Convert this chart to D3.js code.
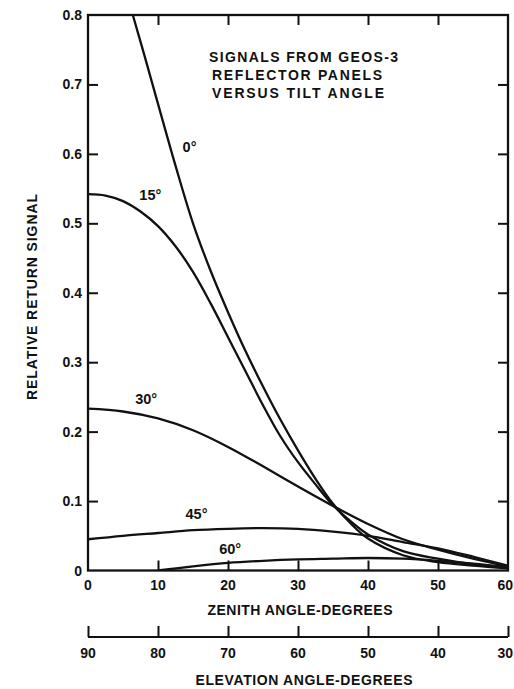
<!DOCTYPE html>
<html><head><meta charset="utf-8">
<script src="https://cdn.jsdelivr.net/npm/d3@7"></script>
<style>
html,body{margin:0;padding:0;background:#fff;}
svg text{font-family:"Liberation Sans",Arial,Helvetica,sans-serif;font-weight:bold;fill:#111;}
</style></head>
<body><svg id="c" width="514" height="689"></svg>
<script>
// zenith angle (deg) vs relative return signal, per tilt angle
const zen0  = [6.4, 8, 10, 12.5, 15, 17.5, 20, 22.5, 25, 27.5, 30, 32.5, 35, 37.5, 40, 45, 50, 55, 60];
const sig0  = [0.80, 0.744, 0.672, 0.583, 0.500, 0.432, 0.372, 0.316, 0.265, 0.217, 0.173, 0.132, 0.096, 0.068, 0.046, 0.022, 0.012, 0.007, 0.003];
const zen15 = [0, 2.5, 5, 7.5, 10, 12.5, 15, 17.5, 20, 22.5, 25, 27.5, 30, 32.5, 35, 37.5, 40, 45, 50, 55, 60];
const sig15 = [0.542, 0.540, 0.532, 0.517, 0.496, 0.467, 0.430, 0.385, 0.336, 0.287, 0.238, 0.193, 0.156, 0.124, 0.094, 0.071, 0.052, 0.028, 0.017, 0.009, 0.004];
const zen30 = [0, 5, 10, 15, 20, 25, 30, 35, 40, 45, 50, 55, 60];
const sig30 = [0.233, 0.229, 0.219, 0.202, 0.178, 0.150, 0.121, 0.093, 0.067, 0.045, 0.030, 0.017, 0.006];
const zen45 = [0, 5, 10, 15, 20, 25, 30, 35, 40, 45, 50, 55, 60];
const sig45 = [0.045, 0.050, 0.054, 0.058, 0.060, 0.061, 0.060, 0.056, 0.050, 0.041, 0.032, 0.020, 0.007];
const zen60 = [10, 15, 20, 25, 30, 35, 40, 45, 50, 55, 60];
const sig60 = [0.000, 0.006, 0.011, 0.014, 0.016, 0.017, 0.018, 0.017, 0.014, 0.010, 0.005];
const seriesLabels = ["0°", "15°", "30°", "45°", "60°"];
const labelPos = [[14.5, 0.610], [8.9, 0.541], [8.3, 0.247], [15.5, 0.081], [20.3, 0.032]];
const yTicks = [0, 0.1, 0.2, 0.3, 0.4, 0.5, 0.6, 0.7, 0.8];
const zenTicks = [0, 10, 20, 30, 40, 50, 60];
const elevTicks = [90, 80, 70, 60, 50, 40, 30];
const titleLines = ["SIGNALS FROM GEOS-3", "REFLECTOR PANELS", "VERSUS TILT ANGLE"];

const svg = d3.select("#c");
const L = 88, R = 508, T = 15, B = 570.5;
const x = d3.scaleLinear().domain([0, 60]).range([L, R]);
const y = d3.scaleLinear().domain([0, 0.8]).range([B, T]);
const xe = d3.scaleLinear().domain([90, 30]).range([L, R]);

const defs = svg.append("defs");
defs.append("clipPath").attr("id", "clip").append("rect")
  .attr("x", L).attr("y", T).attr("width", R - L).attr("height", B - T);

// curves
const series = [[zen0, sig0], [zen15, sig15], [zen30, sig30], [zen45, sig45], [zen60, sig60]];
const line = d3.line().x(d => x(d[0])).y(d => y(d[1])).curve(d3.curveCatmullRom.alpha(0.5));
const g = svg.append("g").attr("clip-path", "url(#clip)");
series.forEach(([zs, vs]) => {
  g.append("path").attr("d", line(zs.map((z, i) => [z, vs[i]])))
    .attr("fill", "none").attr("stroke", "#111").attr("stroke-width", 2.3)
    .attr("stroke-linejoin", "round");
});

// frame axes
const tk = 10;
const axL = d3.axisRight(y).tickValues(yTicks.slice(1, -1)).tickSize(tk).tickFormat("");
const axR = d3.axisLeft(y).tickValues(yTicks.slice(1, -1)).tickSize(tk).tickFormat("");
const axT = d3.axisBottom(x).tickValues(zenTicks.slice(1, -1)).tickSize(tk).tickFormat("");
const axB = d3.axisTop(x).tickValues(zenTicks.slice(1, -1)).tickSize(tk).tickFormat("");
function style(sel) {
  sel.selectAll(".domain").remove();
  sel.selectAll("line").attr("stroke", "#111").attr("stroke-width", 2);
}
svg.append("g").attr("transform", `translate(${L},0)`).call(axL).call(style);
svg.append("g").attr("transform", `translate(${R},0)`).call(axR).call(style);
svg.append("g").attr("transform", `translate(0,${T})`).call(axT).call(style);
svg.append("g").attr("transform", `translate(0,${B})`).call(axB).call(style);
svg.append("rect").attr("x", L).attr("y", T).attr("width", R - L).attr("height", B - T)
  .attr("fill", "none").attr("stroke", "#111").attr("stroke-width", 2.3);

// y tick labels
svg.append("g").selectAll("text").data(yTicks).join("text")
  .attr("x", 82).attr("y", d => y(d)).attr("dy", "0.36em").attr("text-anchor", "end")
  .attr("font-size", 14).text(d => d === 0 ? "0" : d3.format(".1f")(d));

// zenith tick labels (last one kept inside the page edge)
const last = (i, n) => i === n - 1;
svg.append("g").selectAll("text").data(zenTicks).join("text")
  .attr("x", (d, i) => last(i, zenTicks.length) ? 513 : x(d)).attr("y", 585).attr("dy", "0.36em")
  .attr("text-anchor", (d, i) => last(i, zenTicks.length) ? "end" : "middle")
  .attr("font-size", 14).text(d => d);
svg.append("text").attr("x", 300).attr("y", 610).attr("dy", "0.36em").attr("text-anchor", "middle")
  .attr("font-size", 14).attr("textLength", 185).attr("lengthAdjust", "spacing").text("ZENITH ANGLE-DEGREES");

// elevation axis
const axE = d3.axisTop(xe).tickValues(elevTicks).tickSize(11).tickFormat("");
const ge = svg.append("g").attr("transform", "translate(0,637)").call(axE);
ge.select(".domain").attr("stroke", "#111").attr("stroke-width", 2).attr("d", `M${L},0H${R}`);
ge.selectAll("line").attr("stroke", "#111").attr("stroke-width", 2);
svg.append("g").selectAll("text").data(elevTicks).join("text")
  .attr("x", (d, i) => last(i, elevTicks.length) ? 513 : xe(d)).attr("y", 653).attr("dy", "0.36em")
  .attr("text-anchor", (d, i) => last(i, elevTicks.length) ? "end" : "middle")
  .attr("font-size", 14).text(d => d);
svg.append("text").attr("x", 304).attr("y", 680).attr("dy", "0.36em").attr("text-anchor", "middle")
  .attr("font-size", 14).attr("textLength", 217).attr("lengthAdjust", "spacing").text("ELEVATION ANGLE-DEGREES");

// y axis title
svg.append("text").attr("transform", "translate(32,297) rotate(-90)").attr("dy", "0.36em")
  .attr("text-anchor", "middle").attr("font-size", 14)
  .attr("textLength", 206).attr("lengthAdjust", "spacing").text("RELATIVE RETURN SIGNAL");

// title
const tw = [189, 170, 172];
svg.append("g").selectAll("text").data(titleLines).join("text")
  .attr("x", (d, i) => i === 0 ? 209 : 212).attr("y", (d, i) => 57 + i * 18).attr("dy", "0.36em")
  .attr("font-size", 14).attr("textLength", (d, i) => tw[i]).attr("lengthAdjust", "spacing").text(d => d);

// series labels
svg.append("g").selectAll("text").data(seriesLabels).join("text")
  .attr("x", (d, i) => x(labelPos[i][0])).attr("y", (d, i) => y(labelPos[i][1]))
  .attr("dy", "0.36em").attr("text-anchor", "middle").attr("font-size", 14.5).text(d => d);
</script></body></html>
